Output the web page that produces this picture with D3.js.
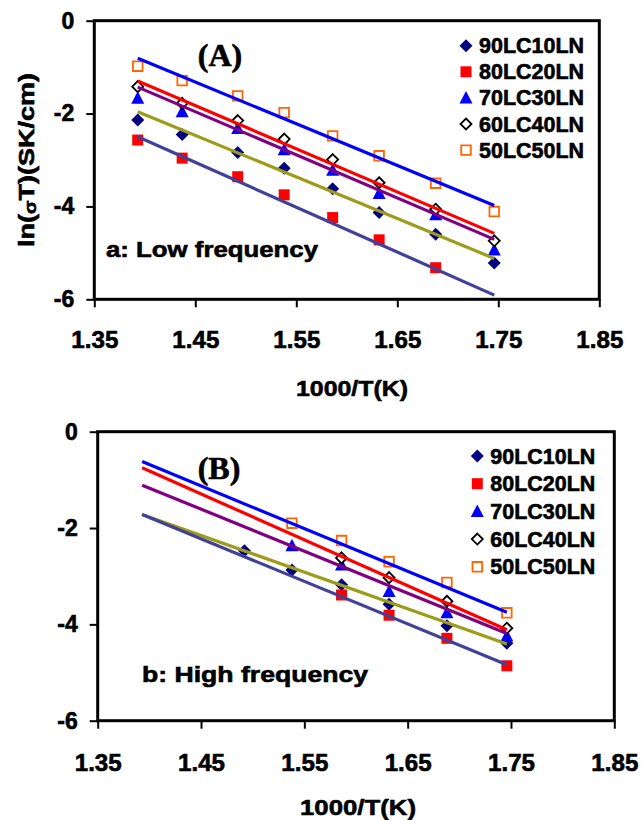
<!DOCTYPE html>
<html>
<head>
<meta charset="utf-8">
<script src="https://cdn.jsdelivr.net/npm/d3@7"></script>
<style>
  body { margin: 0; background: #fff; }
  text { font-family: "Liberation Sans", Arial, sans-serif; font-weight: bold; fill: #000; stroke: #000; stroke-width: 0.6px; }
</style>
</head>
<body>
<script>
// series names (legend)
var seriesNames = ["90LC10LN", "80LC20LN", "70LC30LN", "60LC40LN", "50LC50LN"];

// panel a: low frequency
var xLow = [1.393, 1.437, 1.492, 1.538, 1.586, 1.632, 1.688, 1.746];
var low90 = [-2.14, -2.45, -2.84, -3.18, -3.62, -4.13, -4.60, -5.22];
var low80 = [-2.57, -2.96, -3.36, -3.75, -4.24, -4.72, -5.32, null];
var low70 = [-1.67, -1.96, -2.32, -2.78, -3.22, -3.72, -4.18, -4.94];
var low60 = [-1.42, -1.78, -2.15, -2.55, -2.99, -3.49, -4.06, -4.74];
var low50 = [-0.98, -1.29, -1.62, -1.98, -2.48, -2.91, -3.50, -4.11];

// panel b: high frequency
var xHigh = [1.492, 1.538, 1.586, 1.632, 1.688, 1.746];
var high90 = [-2.47, -2.87, -3.18, -3.58, -4.03, -4.39];
var high80 = [null, null, -3.39, -3.81, -4.29, -4.86];
var high70 = [null, -2.37, -2.77, -3.32, -3.76, -4.24];
var high60 = [null, null, -2.62, -3.03, -3.52, -4.08];
var high50 = [null, -1.90, -2.26, -2.70, -3.13, -3.76];

// straight fit lines (start / end value)
var fitX = [1.393, 1.746];
var fitLowStart = [-0.81, -1.30, -1.43, -1.96, -2.50];
var fitLowEnd = [-3.98, -4.58, -4.71, -5.12, -5.91];
var fitHighStart = [-0.62, -0.75, -1.11, -1.72, -1.72];
var fitHighEnd = [-3.75, -4.11, -4.19, -4.41, -4.84];

// ticks
var xTicks = [1.35, 1.45, 1.55, 1.65, 1.75, 1.85];
var yTicks = [0, -2, -4, -6];

var fitColors = ["#0000ff", "#ff0000", "#800080", "#9c9c1a", "#414199"];
var markers = [
    { shape: "diamond", fill: "#000080", stroke: "none" },
    { shape: "square", fill: "#ff0000", stroke: "none" },
    { shape: "triangle", fill: "#0000ff", stroke: "none" },
    { shape: "diamond", fill: "#fff", stroke: "#000", open: true },
    { shape: "square", fill: "#fff", stroke: "#ff6600", open: true }
];

var svg = d3.select("body").append("svg").attr("width", 642).attr("height", 820);
svg.append("rect").attr("width", 642).attr("height", 820).attr("fill", "#fff");

// marker path centred on 0,0
function shapePath(m) {
    if (m.shape == "diamond") {
        var r = m.open ? 5.5 : 6.5;
        return "M0," + (-r) + "L" + r + ",0L0," + r + "L" + (-r) + ",0Z";
    }
    if (m.shape == "square") {
        var h = m.open ? 4.8 : 5.5;
        return "M" + (-h) + "," + (-h) + "H" + h + "V" + h + "H" + (-h) + "Z";
    }
    return "M0,-7L6.5,5.5H-6.5Z";
}

function fitText(sel, len) {
    sel.attr("textLength", len).attr("lengthAdjust", "spacingAndGlyphs");
}

function panel(p) {
    var x = d3.scaleLinear().domain([1.35, 1.85]).range([p.left, p.right]);
    var y = d3.scaleLinear().domain([-6, 0]).range([p.bottom, p.top]);
    var g = svg.append("g");

    // axes
    var ax = g.append("g").attr("transform", "translate(0," + p.bottom + ")")
        .call(d3.axisBottom(x).tickValues(xTicks).tickSize(8).tickPadding(p.xPad).tickFormat(d3.format(".2f")));
    var ay = g.append("g").attr("transform", "translate(" + p.left + ",0)")
        .call(d3.axisLeft(y).tickValues(yTicks).tickSize(8).tickPadding(12).tickFormat(function (d) { return String(d); }));
    [ax, ay].forEach(function (a) {
        a.select(".domain").remove();
        a.selectAll(".tick line").attr("stroke", "#000").attr("stroke-width", 2);
        a.selectAll(".tick text")
            .style("font-size", "23px").style("font-weight", "bold")
            .style("font-family", "'Liberation Sans', Arial, sans-serif").style("fill", "#000");
    });
    ax.selectAll(".tick text").call(fitText, 47);

    // markers
    p.series.forEach(function (vals, i) {
        var pts = vals.map(function (v, j) { return { x: p.xs[j], y: v }; })
            .filter(function (d) { return d.y != null; });
        g.append("g").selectAll("path").data(pts).enter().append("path")
            .attr("d", shapePath(markers[i]))
            .attr("transform", function (d) { return "translate(" + x(d.x) + "," + y(d.y) + ")"; })
            .attr("fill", markers[i].fill)
            .attr("stroke", markers[i].stroke)
            .attr("stroke-width", markers[i].open ? 1.8 : 0);
    });

    // fit lines
    g.append("g").selectAll("line").data(p.fitStart).enter().append("line")
        .attr("x1", x(fitX[0])).attr("x2", x(fitX[1]))
        .attr("y1", function (d) { return y(d); })
        .attr("y2", function (d, i) { return y(p.fitEnd[i]); })
        .attr("stroke", function (d, i) { return fitColors[i]; })
        .attr("stroke-width", 3.2);

    // frame
    g.append("rect").attr("x", p.left).attr("y", p.top)
        .attr("width", p.right - p.left).attr("height", p.bottom - p.top)
        .attr("fill", "none").attr("stroke", "#000").attr("stroke-width", 3);

    // legend
    var lg = g.append("g").selectAll("g").data(seriesNames).enter().append("g")
        .attr("transform", function (d, i) { return "translate(0," + (p.legY + i * p.legDy) + ")"; });
    lg.append("path")
        .attr("d", function (d, i) { return shapePath(markers[i]); })
        .attr("transform", "translate(" + p.legX + ",0)")
        .attr("fill", function (d, i) { return markers[i].fill; })
        .attr("stroke", function (d, i) { return markers[i].stroke; })
        .attr("stroke-width", function (d, i) { return markers[i].open ? 1.8 : 0; });
    lg.append("text").attr("x", p.legX + 13).attr("y", 7.5)
        .style("font-size", "21.5px").text(function (d) { return d; }).call(fitText, 105);

    // panel letter
    g.append("text").attr("x", p.letterX).attr("y", p.letterY)
        .attr("text-anchor", "middle")
        .style("font-family", "'Liberation Serif', 'Times New Roman', serif")
        .style("font-size", "32px").text(p.letter);

    // note
    g.append("text").attr("x", p.noteX).attr("y", p.noteY)
        .style("font-size", "22px").text(p.note).call(fitText, p.noteW);

    // x title
    g.append("text").attr("x", p.titleX).attr("y", p.titleY)
        .attr("text-anchor", "middle").style("font-size", "22px")
        .text("1000/T(K)").call(fitText, p.titleW);
}

panel({
    left: 94.3, right: 599.3, top: 20.7, bottom: 299.3, xPad: 24,
    xs: xLow, series: [low90, low80, low70, low60, low50],
    fitStart: fitLowStart, fitEnd: fitLowEnd,
    legX: 466, legY: 45.7, legDy: 26.1,
    letter: "(A)", letterX: 220, letterY: 66,
    note: "a: Low frequency", noteX: 106, noteY: 257, noteW: 212,
    titleX: 352, titleY: 396, titleW: 112
});

panel({
    left: 97.7, right: 614.3, top: 431.7, bottom: 720.7, xPad: 26,
    xs: xHigh, series: [high90, high80, high70, high60, high50],
    fitStart: fitHighStart, fitEnd: fitHighEnd,
    legX: 477.3, legY: 456, legDy: 27.7,
    letter: "(B)", letterX: 219, letterY: 479,
    note: "b: High frequency", noteX: 142, noteY: 682, noteW: 226,
    titleX: 358, titleY: 815, titleW: 116
});

// y axis title (top panel only)
var yt = svg.append("text").attr("transform", "translate(34,160) rotate(-90)")
    .attr("text-anchor", "middle").style("font-size", "22px");
yt.append("tspan").text("ln(");
yt.append("tspan").style("font-size", "16px").attr("dy", 2).text("σ");
yt.append("tspan").attr("dy", -2).text("T)(SK/cm)");
yt.call(fitText, 174);
</script>
</body>
</html>
